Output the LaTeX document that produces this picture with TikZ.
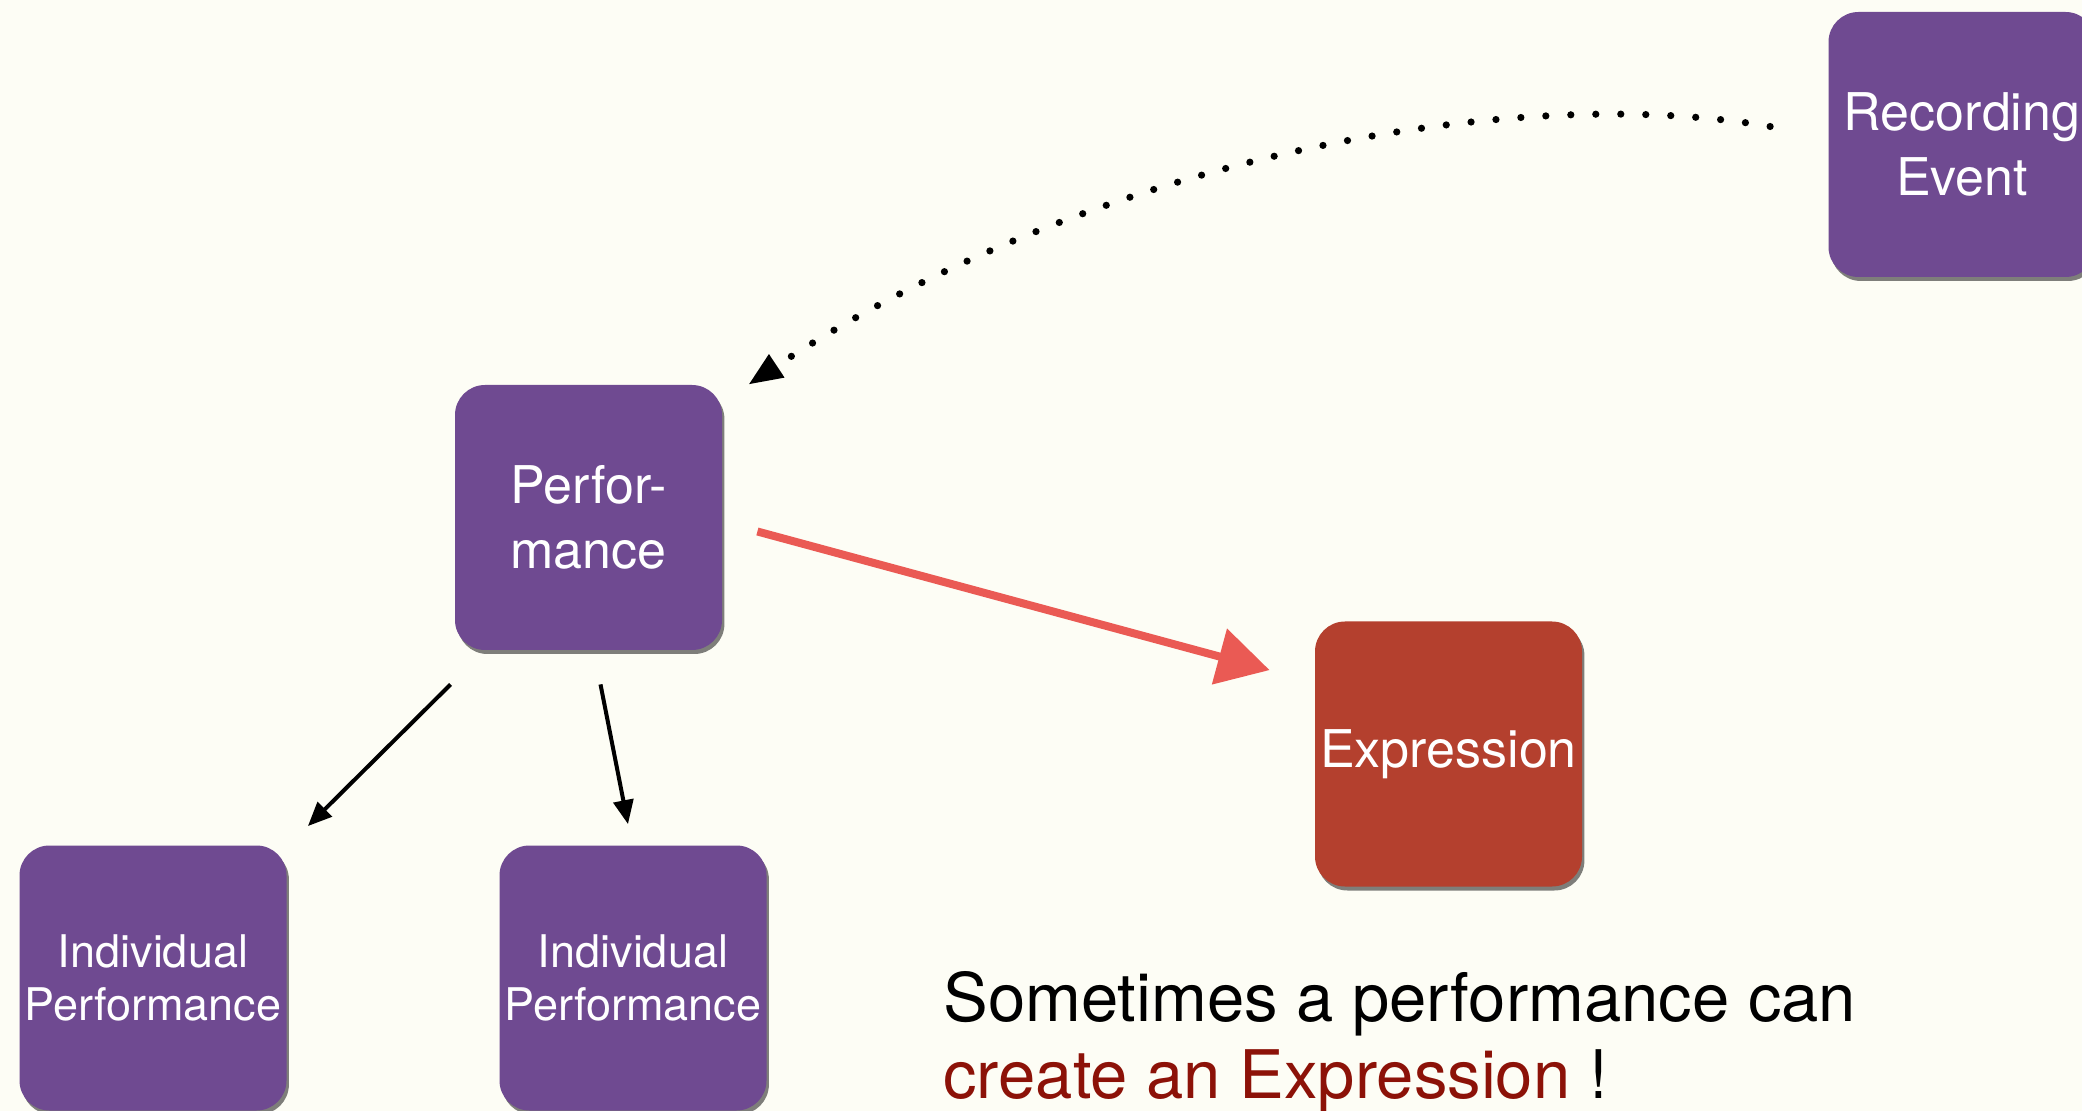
\documentclass[tikz,border=0pt]{standalone}
\usepackage{fontspec}
\setmainfont{TeX Gyre Heros}
\usepackage{xcolor}
\usepackage{tikz}
\usetikzlibrary{calc, arrows.meta, shadows}

\definecolor{bgcream}{RGB}{253,253,245}
\definecolor{plum}{RGB}{111,74,145}
\definecolor{brick}{RGB}{180,64,46}
\definecolor{chalkred}{RGB}{234,90,84}
\definecolor{darkred}{RGB}{140,18,8}

\begin{document}
\begin{tikzpicture}[x=0.5pt, y=-0.5pt,
		tile/.style = {rounded corners=15pt, minimum width=133.5pt, minimum height=132.5pt,
			inner sep=0pt, align=center, text=white,
			drop shadow={shadow xshift=1.2pt, shadow yshift=-2pt, opacity=0.5, fill=black},
			font=\fontsize{26}{32.5}\selectfont},
		small/.style = {font=\fontsize{22.5}{26.5}\selectfont}]
					\def\W{2082}
					\def\H{1111}

					\useasboundingbox (0,0) rectangle (\W,\H);
					\fill [bgcream] (0,0) rectangle (\W,\H);

					% boxes
					\node [tile, fill=plum] (rec) at (1962,144.5) {Recording\\Event};
					\node [tile, fill=plum] (perf) at (588.5,517.5) {Perfor-\\mance};
					\node [tile, fill=brick] (expr) at (1448.5,754) {\raisebox{-3pt}{Expression}};
					\node [tile, fill=plum, small] (indA) at (153,978) {Individual\\Performance};
					\node [tile, fill=plum, small] (indB) at (633,978) {Individual\\Performance};

					% note
					\node [anchor=north west, inner sep=0pt, align=left,
						font=\fontsize{33.5}{38.5}\selectfont] (note) at (943,971)
						{Sometimes a performance can\\\textcolor{darkred}{create an Expression} !};

					% connectors
					\begin{scope}[-{Triangle[length=12pt, width=10pt]}, line width=2pt]
						\draw ($(perf.south west)+(-4,34)$) -- ($(indA.north east)+(21,-19)$);
						\draw ($(perf.south)+(12,34)$) -- ($(indB.north)+(-5,-21)$);
					\end{scope}

					\draw [line width=3.6pt, line cap=round, dash pattern=on 0pt off 12.5pt,
						-{Triangle[length=17pt, width=13pt]}]
						($(rec.west)+(-58,-18)$) .. controls (1500,80) and (1080,165) .. ($(perf.north east)+(26,0)$);

					\draw [chalkred, line width=4pt, -{Triangle[length=26pt, width=28pt]}]
						($(perf.east)+(35,14)$) -- ($(expr.north west)+(-45,49)$);
				\end{tikzpicture}
\end{document}
